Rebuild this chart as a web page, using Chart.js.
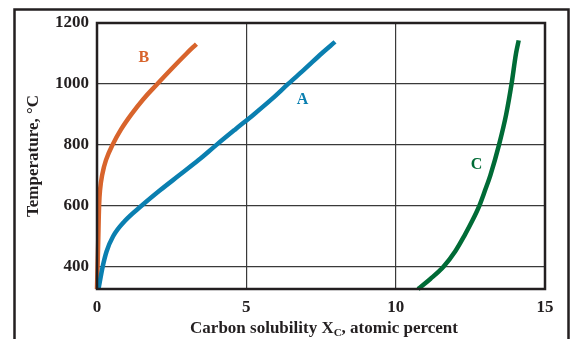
<!DOCTYPE html>
<html>
<head>
<meta charset="utf-8">
<script src="https://cdn.jsdelivr.net/npm/chart.js@4/dist/chart.umd.min.js"></script>
<style>
html,body{margin:0;padding:0;background:#fff;}
#wrap{width:574px;height:339px;position:relative;}
</style>
</head>
<body>
<div id="wrap"><canvas id="c" width="574" height="339"></canvas></div>
<script>
// Curve A (blue)
const aX = [0.05, 0.19, 0.32, 0.54, 0.93, 1.49, 2.1, 2.75, 3.4, 4.0, 4.62, 5.25, 5.85, 6.4, 6.97, 7.52, 7.97];
const aY = [327, 400, 450, 500, 550, 600, 650, 700, 750, 800, 850, 900, 950, 1000, 1050, 1100, 1138];
// Curve B (orange)
const bX = [0.0, 0.04, 0.07, 0.1, 0.17, 0.3, 0.52, 0.8, 1.15, 1.55, 2.02, 2.5, 3.0, 3.33];
const bY = [327, 480, 600, 650, 700, 750, 800, 850, 900, 950, 1000, 1050, 1100, 1131];
// Curve C (green)
const cX = [10.75, 11.16, 11.6, 11.99, 12.29, 12.56, 12.8, 12.99, 13.17, 13.46, 13.7, 13.88, 14.03, 14.12];
const cY = [327, 360, 400, 450, 500, 550, 600, 650, 700, 800, 900, 1000, 1100, 1143];

const xTicks = [0, 5, 10, 15];
const yTicks = [400, 600, 800, 1000, 1200];
const curveNames = ['A', 'B', 'C'];
const curveColors = ['#0a7fb0', '#d8642c', '#006b36'];
// label anchor points in data space
const labelX = [6.88, 1.57, 12.71];
const labelY = [948, 1085, 734];

const FONT = "'Liberation Serif', 'DejaVu Serif', serif";

function pts(xs, ys){ return xs.map((x,i)=>({x:x, y:ys[i]})); }

const frame = {
  id:'frame',
  afterDraw(chart){
    const ctx = chart.ctx, a = chart.chartArea;
    ctx.save();
    ctx.strokeStyle = '#231f20';
    ctx.lineWidth = 2.5;
    ctx.strokeRect(a.left, a.top, a.right - a.left, a.bottom - a.top);
    ctx.strokeRect(14.5, 9.5, 554, 340);
    // curve labels
    ctx.font = "bold 16px " + FONT;
    ctx.textAlign = 'center';
    ctx.textBaseline = 'middle';
    const xs = chart.scales.x, ys = chart.scales.y;
    curveNames.forEach((n,i)=>{
      ctx.fillStyle = curveColors[i];
      ctx.fillText(n, xs.getPixelForValue(labelX[i]), ys.getPixelForValue(labelY[i]));
    });
    ctx.fillStyle = '#231f20';
    // y-axis title
    ctx.save();
    ctx.translate(34, (a.top + a.bottom)/2);
    ctx.rotate(-Math.PI/2);
    ctx.font = "bold 17px " + FONT;
    ctx.textAlign = 'center';
    ctx.textBaseline = 'middle';
    ctx.fillText('Temperature, °C', 0, 0);
    ctx.restore();
    // x-axis title with subscript
    ctx.textAlign = 'left';
    ctx.textBaseline = 'alphabetic';
    const p1 = 'Carbon solubility X', sub = 'C', p2 = ', atomic percent';
    const mainFont = "bold 17px " + FONT, subFont = "bold 11px " + FONT;
    ctx.font = mainFont; const w1 = ctx.measureText(p1).width, w3 = ctx.measureText(p2).width;
    ctx.font = subFont; const w2 = ctx.measureText(sub).width;
    const total = w1 + w2 + w3;
    const x0 = 324 - total/2;
    const base = 333;
    ctx.font = mainFont; ctx.fillText(p1, x0, base);
    ctx.font = subFont; ctx.fillText(sub, x0 + w1, base + 3);
    ctx.font = mainFont; ctx.fillText(p2, x0 + w1 + w2, base);
    ctx.restore();
  }
};

const common = {showLine:true, pointRadius:0, borderWidth:4.5, fill:false, clip:6, borderCapStyle:'butt'};

new Chart(document.getElementById('c'), {
  type: 'scatter',
  data: {
    datasets: [
      Object.assign({label:'A', data: pts(aX, aY), borderColor: curveColors[0], cubicInterpolationMode:'monotone'}, common),
      Object.assign({label:'B', data: pts(bX, bY), borderColor: curveColors[1], tension:0.4}, common),
      Object.assign({label:'C', data: pts(cX, cY), borderColor: curveColors[2], cubicInterpolationMode:'monotone'}, common)
    ]
  },
  options: {
    responsive:false,
    animation:false,
    devicePixelRatio:1,
    layout:{padding:{left:0, top:23, right:29, bottom:0}},
    plugins:{legend:{display:false}, tooltip:{enabled:false}, title:{display:false}},
    scales:{
      x:{
        type:'linear', min:0, max:15,
        afterBuildTicks(s){ s.ticks = xTicks.map(v=>({value:v})); },
        afterFit(s){ s.height = 50; },
        border:{display:false},
        grid:{color:'#3a3a3a', lineWidth:1.2, drawTicks:false},
        ticks:{padding:8, color:'#231f20', font:{family:FONT, size:17, weight:'bold'}, callback:v=>String(v)}
      },
      y:{
        type:'linear', min:327, max:1200,
        afterBuildTicks(s){ s.ticks = yTicks.map(v=>({value:v})); },
        afterFit(s){ s.width = 97; },
        border:{display:false},
        grid:{color:'#3a3a3a', lineWidth:1.2, drawTicks:false},
        ticks:{padding:8, color:'#231f20', font:{family:FONT, size:17, weight:'bold'}, callback:v=>String(v)}
      }
    }
  },
  plugins:[frame]
});
</script>
</body>
</html>
